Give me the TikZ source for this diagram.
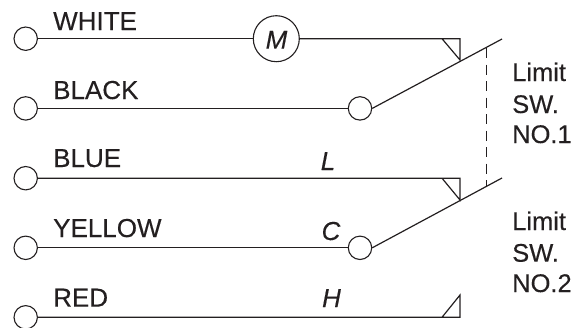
\documentclass[tikz,border=0pt]{standalone}
\usepackage{fontspec}
\setmainfont{Liberation Sans}[RawFeature={embolden=0.3}]
\definecolor{ink}{HTML}{231F20}
\tikzset{
 wire/.style={draw=ink,line width=1.2pt},
 term/.style={circle,draw=ink,line width=1.1pt,minimum size=23.4pt,inner sep=0pt,fill=white},
 lab/.style={anchor=base west,inner sep=0pt,text=ink,font=\fontsize{26}{30}\selectfont},
 ital/.style={anchor=base,inner sep=0pt,text=ink,font=\fontsize{26}{30}\selectfont\itshape},
 side/.style={anchor=base west,inner sep=0pt,text=ink,font=\fontsize{25.5}{30}\selectfont},
}
\begin{document}
\begin{tikzpicture}[x=1pt,y=-1pt]
\useasboundingbox (0,0) rectangle (583,327);
\node[term] (t1) at (25.7,38.7) {};
\node[term] (t2) at (25.7,108.4) {};
\node[term] (t3) at (25.7,178.2) {};
\node[term] (t4) at (25.7,247.8) {};
\node[term] (t5) at (25.7,317.3) {};
\node[term,minimum size=46pt] (m) at (276.3,38.7) {};
\node[term] (c1) at (360,108.4) {};
\node[term] (c2) at (360,247.8) {};
\coordinate (e1) at (460,38.7);
\coordinate (e3) at (460,178.2);
\coordinate (e5) at (460,317.3);
\coordinate (f1) at (460,60);
\coordinate (f3) at (460,200);
\coordinate (f5) at (460,295);
\coordinate (s1) at (442,38.7);
\coordinate (s3) at (442,178.2);
\coordinate (s5) at (442,317.3);
\coordinate (l1) at (502,39);
\coordinate (l2) at (502,178);
\coordinate (d1) at (486.3,48);
\coordinate (d2) at (486.3,187);
\draw[wire] (t1) -- (m);
\draw[wire] (m) -- (e1) -- (f1) -- (s1);
\draw[wire] (t2) -- (c1);
\draw[wire] (t3) -- (e3) -- (f3) -- (s3);
\draw[wire] (t4) -- (c2);
\draw[wire] (t5) -- (e5) -- (f5) -- (s5);
\draw[wire] (c1.east) -- (l1);
\draw[wire] (c2.east) -- (l2);
\draw[draw=ink,line width=1pt,dash pattern=on 10pt off 6.5pt] (d1) -- (d2);
\node[lab] (a) at (53,30) {WHITE};
\node[lab] (b) at (53,99) {BLACK};
\node[lab] (c) at (53,167) {BLUE};
\node[lab] (d) at (53,237) {YELLOW};
\node[lab] (e) at (53,306.6) {RED};
\node[ital] (mm) at (276.5,48.7) {M};
\node[ital] (ll) at (328,170) {L};
\node[ital] (cc) at (331,240) {C};
\node[ital] (hh) at (331.5,307) {H};
\node[side] (s11) at (512,81) {Limit};
\node[side] (s12) at (512,113) {SW.};
\node[side] (s13) at (512,143) {NO.1};
\node[side] (s21) at (512,230) {Limit};
\node[side] (s22) at (512,261.7) {SW.};
\node[side] (s23) at (512,292) {NO.2};
\end{tikzpicture}
\end{document}
